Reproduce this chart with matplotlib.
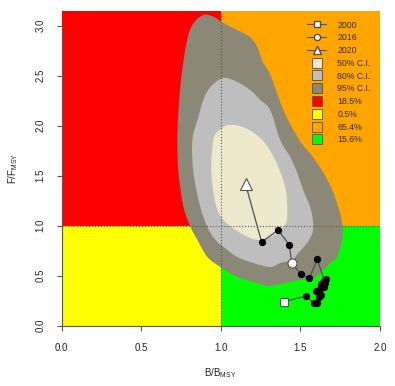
import matplotlib
matplotlib.use("Agg")
import matplotlib.pyplot as plt
from matplotlib.lines import Line2D
from matplotlib.patches import PathPatch
from matplotlib.path import Path

plt.rcParams['font.family'] = ['Liberation Sans', 'DejaVu Sans']
plt.rcParams['mathtext.fontset'] = 'custom'
plt.rcParams['mathtext.rm'] = 'Liberation Sans'

# ---- data ----
years = list(range(2000, 2021))
b_bmsy = [1.397, 1.535, 1.587, 1.615, 1.602, 1.628, 1.600, 1.625, 1.645, 1.630,
          1.655, 1.661, 1.650, 1.606, 1.556, 1.504, 1.445, 1.430, 1.360, 1.256, 1.155]
f_fmsy = [0.240, 0.297, 0.224, 0.290, 0.232, 0.310, 0.350, 0.365, 0.392, 0.420,
          0.425, 0.464, 0.445, 0.667, 0.474, 0.514, 0.630, 0.807, 0.957, 0.837, 1.417]

ci95_b = [0.890, 0.953, 1.016, 1.103, 1.180, 1.228, 1.262, 1.305, 1.352, 1.392, 1.445,
          1.505, 1.578, 1.645, 1.700, 1.737, 1.762, 1.762, 1.730, 1.687, 1.643, 1.580,
          1.455, 1.310, 1.229, 1.103, 0.997, 0.915, 0.853, 0.809, 0.765, 0.734, 0.727,
          0.734, 0.752, 0.784, 0.821]
ci95_f = [3.107, 3.090, 3.027, 2.957, 2.890, 2.790, 2.640, 2.530, 2.330, 2.157, 1.987,
          1.830, 1.687, 1.527, 1.357, 1.187, 1.027, 0.857, 0.687, 0.627, 0.557, 0.477,
          0.447, 0.397, 0.427, 0.487, 0.587, 0.687, 0.857, 0.987, 1.187, 1.527, 1.857,
          2.157, 2.487, 2.827, 3.007]

ci80_b = [1.016, 1.103, 1.185, 1.248, 1.310, 1.373, 1.436, 1.480, 1.517, 1.561, 1.580,
          1.574, 1.542, 1.486, 1.448, 1.373, 1.310, 1.204, 1.103, 1.041, 0.966, 0.915,
          0.871, 0.828, 0.821, 0.859, 0.890, 0.934]
ci80_f = [2.477, 2.437, 2.357, 2.257, 2.157, 1.857, 1.687, 1.527, 1.357, 1.187, 1.027,
          0.927, 0.827, 0.727, 0.657, 0.627, 0.587, 0.627, 0.687, 0.757, 0.857, 0.987,
          1.187, 1.527, 1.857, 2.087, 2.257, 2.387]

ci50_b = [1.053, 1.154, 1.260, 1.342, 1.404, 1.417, 1.411, 1.373, 1.310, 1.248, 1.185,
          1.103, 1.028, 0.972, 0.940, 0.953, 0.991]
ci50_f = [2.007, 1.977, 1.857, 1.657, 1.387, 1.187, 1.037, 0.957, 0.887, 0.857, 0.877,
          0.947, 1.037, 1.187, 1.527, 1.857, 1.957]

zone_labels = ['18.5%', '0.5%', '65.4%', '15.6%']
ci_labels = ['50% C.I.', '80% C.I.', '95% C.I.']
year_marks = [2000, 2016, 2020]

# ---- styles ----
c_red, c_yellow, c_orange, c_green = '#FF0000', '#FFFF00', '#FFA500', '#00FF00'
c95, c80, c50 = '#8B8878', '#BEBEBE', '#EEE8CD'


def smooth_closed_path(xs, ys):
    """Closed Catmull-Rom outline through the given points, as cubic Bezier path."""
    n = len(xs)
    pts = list(zip(xs, ys))
    verts = [pts[0]]
    codes = [Path.MOVETO]
    for i in range(n):
        p0 = pts[(i - 1) % n]
        p1 = pts[i]
        p2 = pts[(i + 1) % n]
        p3 = pts[(i + 2) % n]
        c1 = (p1[0] + (p2[0] - p0[0]) / 6, p1[1] + (p2[1] - p0[1]) / 6)
        c2 = (p2[0] - (p3[0] - p1[0]) / 6, p2[1] - (p3[1] - p1[1]) / 6)
        verts += [c1, c2, p2]
        codes += [Path.CURVE4] * 3
    verts.append(pts[0])
    codes.append(Path.CLOSEPOLY)
    return Path(verts, codes)


fig = plt.figure(figsize=(3.95, 3.86), dpi=100)
ax = fig.add_axes([0.1562, 0.1562, 0.8059, 0.8161])
xmax, ymax = 2.0, 3.15
ref = 1.0
big = 10
ax.fill([0, ref, ref, 0], [ref, ref, big, big], color=c_red, lw=0, zorder=0)
ax.fill([0, ref, ref, 0], [0, 0, ref, ref], color=c_yellow, lw=0, zorder=0)
ax.fill([ref, big, big, ref], [ref, ref, big, big], color=c_orange, lw=0, zorder=0)
ax.fill([ref, big, big, ref], [0, 0, ref, ref], color=c_green, lw=0, zorder=0)

for bb, ff, col in [(ci95_b, ci95_f, c95), (ci80_b, ci80_f, c80), (ci50_b, ci50_f, c50)]:
    ax.add_patch(PathPatch(smooth_closed_path(bb, ff), facecolor=col,
                           edgecolor='none', zorder=1))

ax.axhline(ref, color='#555555', lw=0.8, ls=':', zorder=2)
ax.axvline(ref, color='#555555', lw=0.8, ls=':', zorder=2)

ax.plot(b_bmsy, f_fmsy, color='#505050', lw=0.9, zorder=3)
ax.plot(b_bmsy[1:-1], f_fmsy[1:-1], 'o', color='black', ms=4.2, zorder=4, ls='none')
i0, i1, i2 = [years.index(y) for y in year_marks]
ax.plot(b_bmsy[i0], f_fmsy[i0], 's', mfc='white', mec='#505050', ms=6, mew=0.8, zorder=5)
ax.plot(b_bmsy[i1], f_fmsy[i1], 'o', mfc='white', mec='#505050', ms=6.5, mew=0.8, zorder=5)
ax.plot(b_bmsy[i2], f_fmsy[i2], '^', mfc='white', mec='#505050', ms=9, mew=0.8, zorder=5)

ax.set_xlim(0, xmax)
ax.set_ylim(0, ymax)
ax.set_xticks([0, 0.5, 1.0, 1.5, 2.0])
ax.set_yticks([0, 0.5, 1.0, 1.5, 2.0, 2.5, 3.0])
ax.set_xticklabels(['0.0', '0.5', '1.0', '1.5', '2.0'])
ax.set_yticklabels(['0.0', '0.5', '1.0', '1.5', '2.0', '2.5', '3.0'], rotation=90, va='center')
for s in ['top', 'right']:
    ax.spines[s].set_visible(False)
ax.spines['left'].set_bounds(0, 3.0)
ax.spines['bottom'].set_bounds(0, 2.0)
for s in ['left', 'bottom']:
    ax.spines[s].set_color('#555555')
    ax.spines[s].set_linewidth(0.8)
ax.tick_params(direction='out', length=3.6, width=0.8, color='#555555',
               labelsize=7, labelcolor='#222222')
ax.tick_params(axis='x', pad=8.5)
ax.tick_params(axis='y', pad=8.0)

fig.text(220 / 395, 1 - 373 / 386, r'B/B$_{\mathregular{MSY}}$', ha='center', va='center',
         fontsize=7, color='#222222')
fig.text(13 / 395, 1 - 168 / 386, r'F/F$_{\mathregular{MSY}}$', ha='center', va='center',
         fontsize=7, color='#222222', rotation=90)

handles = [
    Line2D([], [], color='#505050', lw=0.8, marker='s', mfc='white', mec='#505050', ms=4.5),
    Line2D([], [], color='#505050', lw=0.8, marker='o', mfc='white', mec='#505050', ms=4.5),
    Line2D([], [], color='#505050', lw=0.8, marker='^', mfc='white', mec='#505050', ms=5.5),
]
for col in [c50, c80, c95, c_red, c_yellow, c_orange, c_green]:
    handles.append(Line2D([], [], ls='none', marker='s', ms=6.8, mfc=col,
                          mec='#6b5a40', mew=0.7))
labels = [str(y) for y in year_marks] + ci_labels + zone_labels
leg = fig.legend(handles, labels, loc='upper left',
                 bbox_to_anchor=(307 / 395, 1 - 20.5 / 386), frameon=False,
                 fontsize=6.3, handlelength=2.2, handletextpad=1.25,
                 labelspacing=0.43, borderpad=0, borderaxespad=0)
for t in leg.get_texts():
    t.set_color('#3a2a10')

fig.savefig('out.png', dpi=100)
